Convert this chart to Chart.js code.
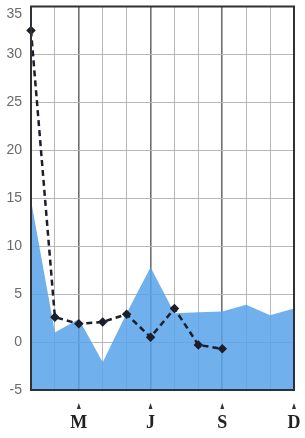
<!DOCTYPE html>
<html>
<head>
<meta charset="utf-8">
<script src="https://cdn.jsdelivr.net/npm/chart.js@4/dist/chart.umd.min.js"></script>
<style>
html,body{margin:0;padding:0;background:#fff;}
#wrap{width:305px;height:438px;position:relative;}
</style>
</head>
<body>
<div id="wrap"><canvas id="c" width="305" height="438"></canvas></div>
<script>
const months = ['J','F','M','A','M','J','J','A','S','O','N','D'];
const shownMonths = [2, 5, 8, 11];
const areaValues = [14.8, 1.0, 2.4, -2.1, 3.0, 7.8, 3.0, 3.1, 3.2, 3.9, 2.8, 3.5];
const dashedValues = [32.5, 2.6, 1.9, 2.1, 2.9, 0.5, 3.5, -0.3, -0.7, null, null, null];
const yTicks = [-5, 0, 5, 10, 15, 20, 25, 30, 35];

const borderPlugin = {
  id: 'frame',
  afterDatasetsDraw(chart) {
    const {ctx, chartArea: a} = chart;
    ctx.save();
    ctx.strokeStyle = '#2e3136';
    ctx.lineWidth = 2;
    ctx.strokeRect(a.left, a.top, a.right - a.left, a.bottom - a.top);
    ctx.restore();
  },
  afterDraw(chart) {
    const {ctx} = chart;
    const xs = chart.scales.x;
    ctx.save();
    ctx.fillStyle = '#333';
    shownMonths.forEach(i => {
      const px = xs.getPixelForTick(i);
      const y0 = xs.top + 13;
      ctx.beginPath();
      ctx.moveTo(px, y0);
      ctx.lineTo(px - 2, y0 + 6);
      ctx.lineTo(px + 2, y0 + 6);
      ctx.closePath();
      ctx.fill();
    });
    ctx.restore();
  }
};

new Chart(document.getElementById('c'), {
  type: 'line',
  data: {
    labels: months,
    datasets: [
      {
        data: dashedValues,
        borderColor: '#1c1e2a',
        borderWidth: 2.5,
        borderDash: [6, 4],
        pointStyle: 'rectRot',
        pointRadius: 3,
        pointBackgroundColor: '#1c1e2a',
        pointBorderColor: '#1c1e2a',
        tension: 0,
        fill: false,
        spanGaps: false,
        order: 0
      },
      {
        data: areaValues,
        borderColor: 'rgba(0,0,0,0)',
        borderWidth: 0,
        backgroundColor: 'rgba(86,162,234,0.85)',
        pointRadius: 0,
        tension: 0,
        fill: 'start',
        order: 1
      }
    ]
  },
  options: {
    responsive: false,
    animation: false,
    devicePixelRatio: 1,
    layout: {padding: {top: 6, right: 11, left: 0, bottom: 0}},
    plugins: {legend: {display: false}, tooltip: {enabled: false}},
    scales: {
      x: {
        offset: false,
        grid: {
          drawTicks: false,
          color: ctx => shownMonths.slice(0, 3).includes(ctx.index) ? '#707070' : '#b8b8b8',
          lineWidth: ctx => shownMonths.slice(0, 3).includes(ctx.index) ? 1.6 : 1
        },
        border: {display: false},
        ticks: {
          autoSkip: false,
          maxRotation: 0,
          padding: 23,
          color: '#222',
          font: {family: 'Liberation Serif', size: 18, weight: 'bold'},
          callback: (v, i) => shownMonths.includes(i) ? months[i] : ''
        },
        afterFit: s => { s.height = 48; s.paddingLeft = 0; s.paddingRight = 0; }
      },
      y: {
        min: -5,
        max: 35,
        afterBuildTicks: s => { s.ticks = yTicks.map(v => ({value: v})); },
        grid: {drawTicks: false, color: '#b8b8b8', lineWidth: 1},
        border: {display: false},
        ticks: {
          padding: 9,
          color: '#6a6a6a',
          font: {family: 'Liberation Sans', size: 14, lineHeight: 1.1},
          callback: v => v === 35 ? ['', String(v)] : String(v)
        },
        afterFit: s => { s.width = 31; s.paddingTop = 0; s.paddingBottom = 0; }
      }
    }
  },
  plugins: [borderPlugin]
});
</script>
</body>
</html>
